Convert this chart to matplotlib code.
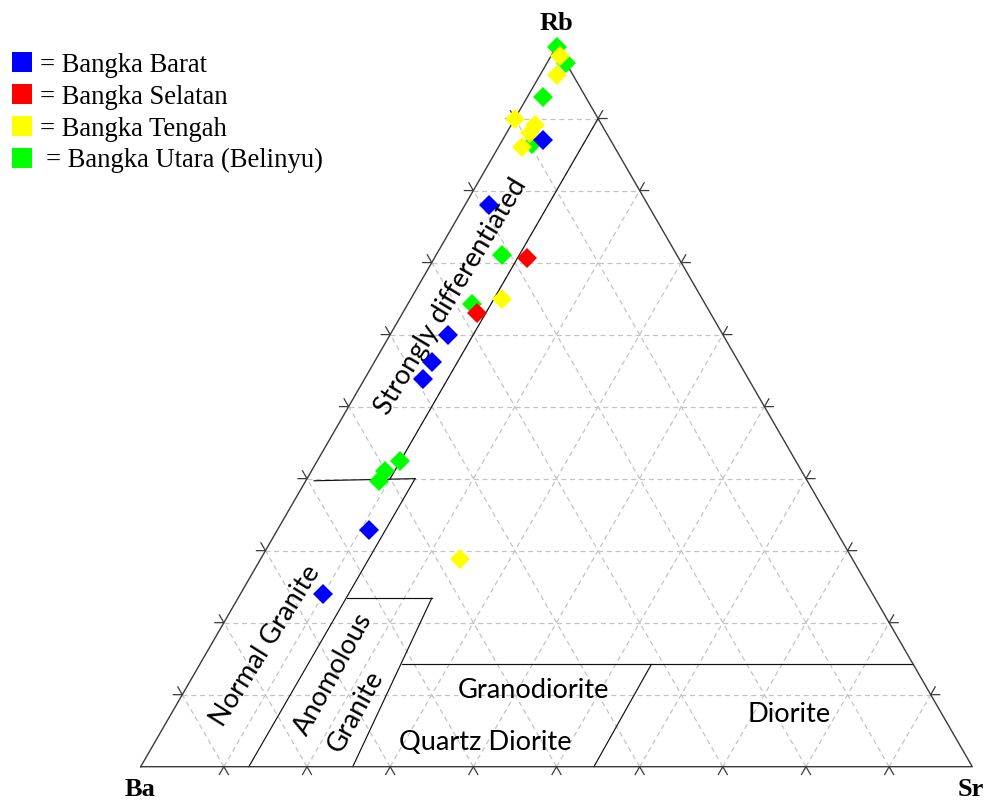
import numpy as np
import matplotlib
matplotlib.use("Agg")
import matplotlib.pyplot as plt
from matplotlib.patches import Rectangle

# ---------------- data (ternary compositions: Rb, Ba, Sr) ----------------
barat_rb = [0.870, 0.780, 0.600, 0.562, 0.538, 0.329, 0.240]
barat_ba = [0.081, 0.191, 0.331, 0.369, 0.391, 0.561, 0.661]
barat_sr = [0.049, 0.029, 0.069, 0.070, 0.071, 0.110, 0.099]

selatan_rb = [0.707, 0.630]
selatan_ba = [0.182, 0.281]
selatan_sr = [0.111, 0.089]

tengah_rb = [0.987, 0.961, 0.900, 0.891, 0.880, 0.861, 0.650, 0.289]
tengah_ba = [0.002, 0.019, 0.100, 0.080, 0.092, 0.111, 0.240, 0.472]
tengah_sr = [0.011, 0.020, 0.000, 0.029, 0.028, 0.028, 0.110, 0.239]

utara_rb = [1.000, 0.977, 0.930, 0.864, 0.711, 0.643, 0.425, 0.410, 0.397]
utara_ba = [0.000, 0.000, 0.051, 0.098, 0.210, 0.280, 0.476, 0.501, 0.515]
utara_sr = [0.000, 0.023, 0.019, 0.038, 0.079, 0.077, 0.099, 0.089, 0.088]

series_names = ["Bangka Barat", "Bangka Selatan", "Bangka Tengah", "Bangka Utara (Belinyu)"]
series_colors = ["#0000ff", "#ff0000", "#ffff00", "#00ff00"]

# field boundaries (Rb, Ba, Sr)
strong_line = [(0.90, 0.00, 0.10), (0.40, 0.50, 0.10)]
strong_base = [(0.397, 0.593, 0.010), (0.40, 0.47, 0.13)]
normal_line = [(0.40, 0.47, 0.13), (0.0, 0.87, 0.13)]
anom_top = [(0.234, 0.635, 0.131), (0.234, 0.533, 0.233)]
anom_line = [(0.234, 0.533, 0.233), (0.0, 0.745, 0.255)]
grano_top = [(0.142, 0.615, 0.243), (0.142, 0.0, 0.858)]
diorite_line = [(0.142, 0.315, 0.543), (0.0, 0.455, 0.545)]

SQ3 = np.sqrt(3) / 2


def tern(rb, ba, sr):
    rb = np.asarray(rb, float); ba = np.asarray(ba, float); sr = np.asarray(sr, float)
    t = rb + ba + sr
    return (sr + rb / 2) / t, rb * SQ3 / t


# pixel layout helpers (figure 986x801 px)
X0, Y0, L = 140.7, 766.7, 831.6


def P(px, py):
    return (px - X0) / L, (Y0 - py) / L


fig = plt.figure(figsize=(9.86, 8.01), dpi=100)
ax = fig.add_axes([0, 0, 1, 1])
ax.set_xlim(-X0 / L, (986 - X0) / L)
ax.set_ylim(-(801 - Y0) / L, Y0 / L)
ax.axis("off")

# grid
gkw = dict(color="#c4c4c4", lw=0.9, ls=(0, (4, 3)), zorder=1)
for k in range(1, 10):
    f = k / 10
    x, y = tern([f, f], [1 - f, 0], [0, 1 - f]); ax.plot(x, y, **gkw)
    x, y = tern([0, 1 - f], [1 - f, 0], [f, f]); ax.plot(x, y, **gkw)
    x, y = tern([0, 1 - f], [f, f], [1 - f, 0]); ax.plot(x, y, **gkw)

# triangle
x, y = tern([0, 0, 1, 0], [1, 0, 0, 1], [0, 1, 0, 0])
ax.plot(x, y, color="#3a3a3a", lw=1.0, zorder=3)

# ticks (chevrons pointing outward)
tl = 9.0 / L
tkw = dict(color="#3a3a3a", lw=0.9, zorder=3)
c60, s60 = 0.5, SQ3
for k in range(1, 10):
    f = k / 10
    # bottom
    bx, by = tern(0, 1 - f, f)
    ax.plot([bx - tl * c60, bx, bx + tl * c60], [by - tl * s60, by, by - tl * s60], **tkw)
    # left
    lx, ly = tern(f, 1 - f, 0)
    ax.plot([lx - tl, lx, lx - tl * c60], [ly, ly, ly + tl * s60], **tkw)
    # right
    rx, ry = tern(f, 0, 1 - f)
    ax.plot([rx + tl, rx, rx + tl * c60], [ry, ry, ry + tl * s60], **tkw)

# field boundaries
for seg in [strong_line, strong_base, normal_line, anom_top, anom_line, grano_top, diorite_line]:
    rb, ba, sr = zip(*seg)
    x, y = tern(rb, ba, sr)
    ax.plot(x, y, color="#111111", lw=0.85, zorder=2)

# field labels
lab = dict(fontfamily="Lato", fontsize=19.6, color="black", ha="center", va="center", zorder=2)
ax.text(*P(451, 297), "Strongly differentiated", rotation=59, **lab)
ax.text(*P(265, 646), "Normal Granite", rotation=58, **lab)
ax.text(*P(333, 674), "Anomolous", rotation=61, **lab)
ax.text(*P(356, 711), "Granite", rotation=61, **lab)
ax.text(*P(533, 690), "Granodiorite", **lab)
ax.text(*P(485, 743), "Quartz Diorite", **lab)
ax.text(*P(789, 714), "Diorite", **lab)

# vertex labels
vk = dict(fontfamily="Liberation Serif", fontweight="bold", fontsize=19, ha="center", va="center")
ax.text(*P(556, 23), "Rb", **vk)
ax.text(*P(140, 789), "Ba", **vk)
ax.text(*P(971, 789), "Sr", **vk)

# data points (order: green, yellow, red, blue)
mk = dict(marker="D", ms=10, mew=0, ls="none", zorder=5)
ax.plot(*tern(utara_rb, utara_ba, utara_sr), color=series_colors[3], **mk)
ax.plot(*tern(tengah_rb, tengah_ba, tengah_sr), color=series_colors[2], **mk)
ax.plot(*tern(selatan_rb, selatan_ba, selatan_sr), color=series_colors[1], **mk)
ax.plot(*tern(barat_rb, barat_ba, barat_sr), color=series_colors[0], **mk)

# legend (manual)
W, H = 986, 801
rows = [62, 94, 126, 157.5]
for i, (name, col) in enumerate(zip(series_names, series_colors)):
    cy = rows[i]
    fig.patches.append(Rectangle((12 / W, 1 - (cy + 10) / H), 20 / W, 20 / H,
                                 transform=fig.transFigure, facecolor=col, edgecolor="none"))
    tx = 40 if i < 3 else 46
    fig.text(tx / W, 1 - (cy + 9.5) / H, "= " + name, fontfamily="Liberation Serif",
             fontsize=19.2, ha="left", va="baseline")

fig.savefig("out.png", dpi=100)
